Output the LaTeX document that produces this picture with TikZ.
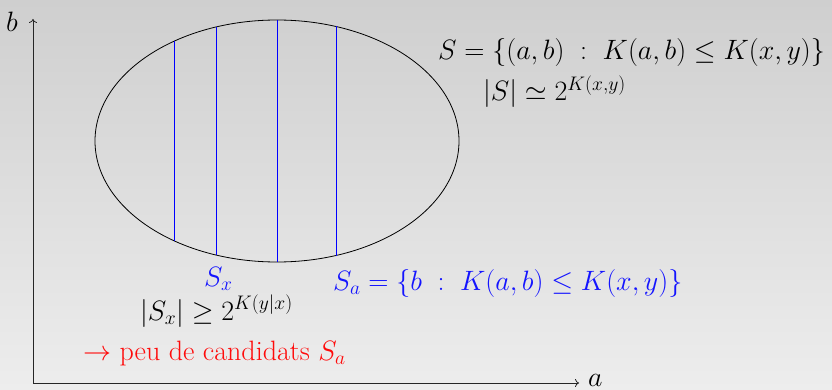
\RequirePackage{fix-cm}
\documentclass[tikz,border=0pt]{standalone}
\usepackage{amsmath}
\usetikzlibrary{arrows.meta}
\definecolor{bgtop}{RGB}{207,207,207}
\definecolor{bgbot}{RGB}{237,237,237}
\definecolor{myblue}{RGB}{20,20,255}
\definecolor{myred}{RGB}{255,10,10}
\begin{document}
\begin{tikzpicture}[x=1pt,y=-1pt,
  lbl/.style={inner sep=0pt, anchor=base west, font=\fontsize{28}{32}\selectfont},
  axisline/.style={draw=black!85, line width=0.8pt, -{To[length=4pt,width=8pt]}},
  chord/.style={line width=0.8pt, blue}]
\shade[top color=bgtop, bottom color=bgbot] (0,0) rectangle (832,390);
\useasboundingbox (0,0) rectangle (832,390);
% axes
\coordinate (O) at (33,383);
\coordinate (xend) at (579,383);
\coordinate (yend) at (33,19);
\draw[axisline] (O) -- (yend);
\draw[axisline] (O) -- (xend);
\node[lbl] (lb) at (6,32) {$b$};
\node[lbl] (la) at (588,386) {$a$};
% ellipse
\draw[line width=0.8pt] (277,141) ellipse [x radius=182, y radius=121];
\draw[chord] (174,41.3) -- (174,240.7);
\draw[chord] (216,27) -- (216,255);
\draw[chord] (277,20) -- (277,262);
\draw[chord] (336,26.5) -- (336,255.5);
% texts
\node[lbl] (S) at (438,60) {$S=\{(a,b)\;:\;K(a,b)\le K(x,y)\}$};
\node[lbl] (Ssize) at (483,101) {$|S|\simeq 2^{K(x,y)}$};
\node[lbl, text=myblue] (Sx) at (204,286) {$S_x$};
\node[lbl, text=myblue] (Sa) at (333,290) {$S_a=\{b\;:\;K(a,b)\le K(x,y)\}$};
\node[lbl] (Sxsize) at (140,320) {$|S_x|\ge 2^{K(y|x)}$};
\node[lbl, text=myred] (peu) at (83,360) {$\rightarrow$ peu de candidats $S_a$};
\end{tikzpicture}
\end{document}
